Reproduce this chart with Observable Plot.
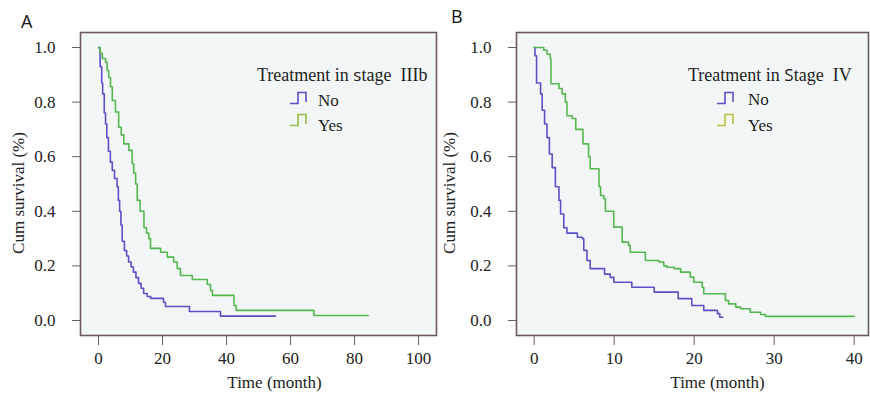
<!DOCTYPE html>
<html><head><meta charset="utf-8">
<script src="https://cdn.jsdelivr.net/npm/d3@7"></script>
<script src="https://cdn.jsdelivr.net/npm/@observablehq/plot@0.6"></script>
<style>
html,body{margin:0;padding:0;background:#fff;}
#wrap{position:relative;width:870px;height:394px;overflow:hidden;font-family:"Liberation Serif",serif;}
.pane{position:absolute;top:0;}
.lbl{position:absolute;font-family:"Open Sans","Noto Sans",sans-serif;font-size:18px;line-height:20px;color:#111;}
.leg{position:absolute;font-size:17px;line-height:17px;color:#1e1e1e;white-space:nowrap;}
.ttl{font-size:18px;line-height:18px;}
.sans{font-family:"Open Sans","Noto Sans",sans-serif;font-size:17px;}
.sym{position:absolute;}
</style></head>
<body><div id="wrap"></div>
<script>
// ---- Panel A: Treatment in stage IIIb ----
const aNoTime = [0, 0.5, 1.0, 1.3, 1.8, 2.2, 2.6, 3.1, 3.7, 4.3, 5.0, 5.8, 6.2, 6.6, 7.0, 7.4, 8.1, 8.8, 9.4, 10.2, 10.9, 11.7, 12.5, 13.3, 14.1, 15.2, 16.3, 20.3, 20.9, 28.4, 38.1];
const aNoSurv = [1.0, 0.93, 0.87, 0.83, 0.76, 0.72, 0.67, 0.62, 0.58, 0.55, 0.52, 0.49, 0.44, 0.40, 0.35, 0.29, 0.256, 0.236, 0.214, 0.196, 0.177, 0.157, 0.136, 0.118, 0.099, 0.088, 0.081, 0.067, 0.051, 0.033, 0.016];
const aNoEnd = 55.3;
const aYesTime = [0, 0.5, 1.2, 2.2, 2.7, 3.2, 3.75, 4.3, 5.3, 6.3, 7.1, 7.9, 9.5, 10.5, 11.0, 11.6, 12.1, 13.0, 14.2, 15.0, 15.7, 16.25, 19.4, 21.5, 23.5, 24.6, 25.6, 29.3, 34.0, 35.0, 35.6, 42.3, 43.0, 67.3];
const aYesSurv = [1.0, 0.98, 0.96, 0.946, 0.916, 0.89, 0.856, 0.806, 0.764, 0.708, 0.68, 0.647, 0.623, 0.574, 0.54, 0.50, 0.44, 0.40, 0.34, 0.32, 0.30, 0.264, 0.25, 0.232, 0.214, 0.19, 0.165, 0.15, 0.132, 0.11, 0.092, 0.055, 0.037, 0.018];
const aYesEnd = 84.3;
const aXTicks = [0, 20, 40, 60, 80, 100];

// ---- Panel B: Treatment in Stage IV ----
const bNoTime = [0, 0.1, 0.3, 0.8, 1.0, 1.3, 1.6, 1.9, 2.25, 2.65, 3.1, 3.3, 3.7, 4.1, 5.4, 6.0, 6.2, 6.6, 7.0, 8.8, 9.5, 9.95, 12.2, 15.0, 18.0, 19.7, 21.2, 22.9, 23.2];
const bNoSurv = [1.0, 0.97, 0.87, 0.83, 0.77, 0.72, 0.67, 0.61, 0.56, 0.49, 0.44, 0.39, 0.34, 0.32, 0.305, 0.30, 0.257, 0.22, 0.19, 0.17, 0.158, 0.14, 0.122, 0.104, 0.08, 0.055, 0.037, 0.025, 0.012];
const bNoEnd = 23.6;
const bYesTime = [0, 1.2, 1.6, 2.0, 2.1, 3.1, 3.5, 3.9, 4.1, 4.75, 5.2, 6.1, 6.8, 7.0, 8.1, 8.3, 8.7, 8.9, 9.95, 11.0, 11.8, 12.0, 13.9, 15.6, 16.2, 16.6, 17.5, 18.3, 19.5, 19.95, 21.0, 21.2, 23.9, 24.3, 25.2, 25.8, 27.0, 28.3, 28.9];
const bYesSurv = [1.0, 0.99, 0.976, 0.96, 0.867, 0.85, 0.83, 0.80, 0.75, 0.74, 0.70, 0.647, 0.60, 0.556, 0.49, 0.458, 0.446, 0.40, 0.342, 0.287, 0.275, 0.25, 0.22, 0.214, 0.20, 0.195, 0.19, 0.177, 0.159, 0.14, 0.122, 0.098, 0.073, 0.061, 0.049, 0.043, 0.03, 0.022, 0.015];
const bYesEnd = 40;
const bXTicks = [0, 10, 20, 30, 40];

const yTicks = [0, 0.2, 0.4, 0.6, 0.8, 1.0];
const groups = ["No", "Yes"];
const colors = ["#5852c8", "#55b84e"];

function series(group, times, surv, end) {
  const rows = times.map((t, i) => ({group, t, s: surv[i]}));
  rows.push({group, t: end, s: surv[surv.length - 1]});
  return rows;
}

function panel(opts) {
  const data = [
    ...series("No", opts.noT, opts.noS, opts.noE),
    ...series("Yes", opts.yesT, opts.yesS, opts.yesE)
  ];
  return Plot.plot({
    width: opts.width, height: 394,
    marginLeft: opts.ml, marginRight: opts.mr, marginTop: 32, marginBottom: 59,
    style: {fontFamily: "Liberation Serif, serif", fontSize: "17px", color: "#222", background: "transparent", overflow: "visible"},
    x: {domain: opts.xDomain},
    y: {domain: [-0.055, 1.055]},
    color: {domain: groups, range: colors},
    marks: [
      Plot.frame({fill: "#f3f6f6", stroke: null}),
      Plot.line(data, {x: "t", y: "s", z: "group", stroke: "group", curve: "step-after", strokeWidth: 1.6}),
      Plot.frame({stroke: "#6b5e5a", strokeWidth: 1.6}),
      Plot.axisY({ticks: yTicks, tickFormat: d3.format(".1f"), tickSize: 8, tickPadding: 17, label: null, stroke: "#6b5e5a"}),
      Plot.axisX({ticks: opts.xTicks, tickSize: 10, tickPadding: 6, label: null, stroke: "#6b5e5a"}),
      Plot.text(["Cum survival (%)"], {frameAnchor: "left", textAnchor: "middle", lineAnchor: "middle", rotate: -90, dx: opts.ylDx, dy: 9, fontSize: 17, fill: "#222"}),
      Plot.text(["Time (month)"], {frameAnchor: "bottom", textAnchor: "middle", lineAnchor: "middle", dy: 47, dx: opts.xlDx, fontSize: 17, fill: "#222"})
    ]
  });
}

const wrap = document.getElementById("wrap");
function addPane(left, svg) {
  const d = document.createElement("div");
  d.className = "pane"; d.style.left = left + "px";
  d.appendChild(svg); wrap.appendChild(d);
}

addPane(0, panel({width: 440, ml: 80, mr: 4, xDomain: [-5.625, 105.6], xTicks: aXTicks,
  noT: aNoTime, noS: aNoSurv, noE: aNoEnd, yesT: aYesTime, yesS: aYesSurv, yesE: aYesEnd, ylDx: -62, xlDx: 16}));
addPane(430, panel({width: 440, ml: 86, mr: 2, xDomain: [-2.21, 41.79], xTicks: bXTicks,
  noT: bNoTime, noS: bNoSurv, noE: bNoEnd, yesT: bYesTime, yesS: bYesSurv, yesE: bYesEnd, ylDx: -67, xlDx: 25}));

function html(cls, left, top, inner) {
  const d = document.createElement("div");
  d.className = cls; d.style.left = left + "px"; d.style.top = top + "px";
  d.innerHTML = inner; wrap.appendChild(d);
}
function sym(left, top, color) {
  html("sym", left, top, `<svg width="18" height="14"><path d="M0,12.5H8V1.5H16V11" fill="none" stroke="${color}" stroke-width="1.6"/></svg>`);
}
// panel letters
html("lbl", 21, 11, "A");
html("lbl", 451, 6, "B");
// legends
html("leg ttl", 257, 66, 'Treatment in <span class="sans">s</span>tage&nbsp; IIIb');
sym(290, 91, colors[0]); html("leg", 318, 92, "No");
sym(290, 113, "#8fc040"); html("leg", 318, 117, "Yes");
html("leg ttl", 688, 66, 'Treatment in <span class="sans">S</span>tage&nbsp; IV');
sym(717, 91, colors[0]); html("leg", 748, 91, "No");
sym(717, 113, "#b5c040"); html("leg", 748, 117, "Yes");
</script></body></html>
